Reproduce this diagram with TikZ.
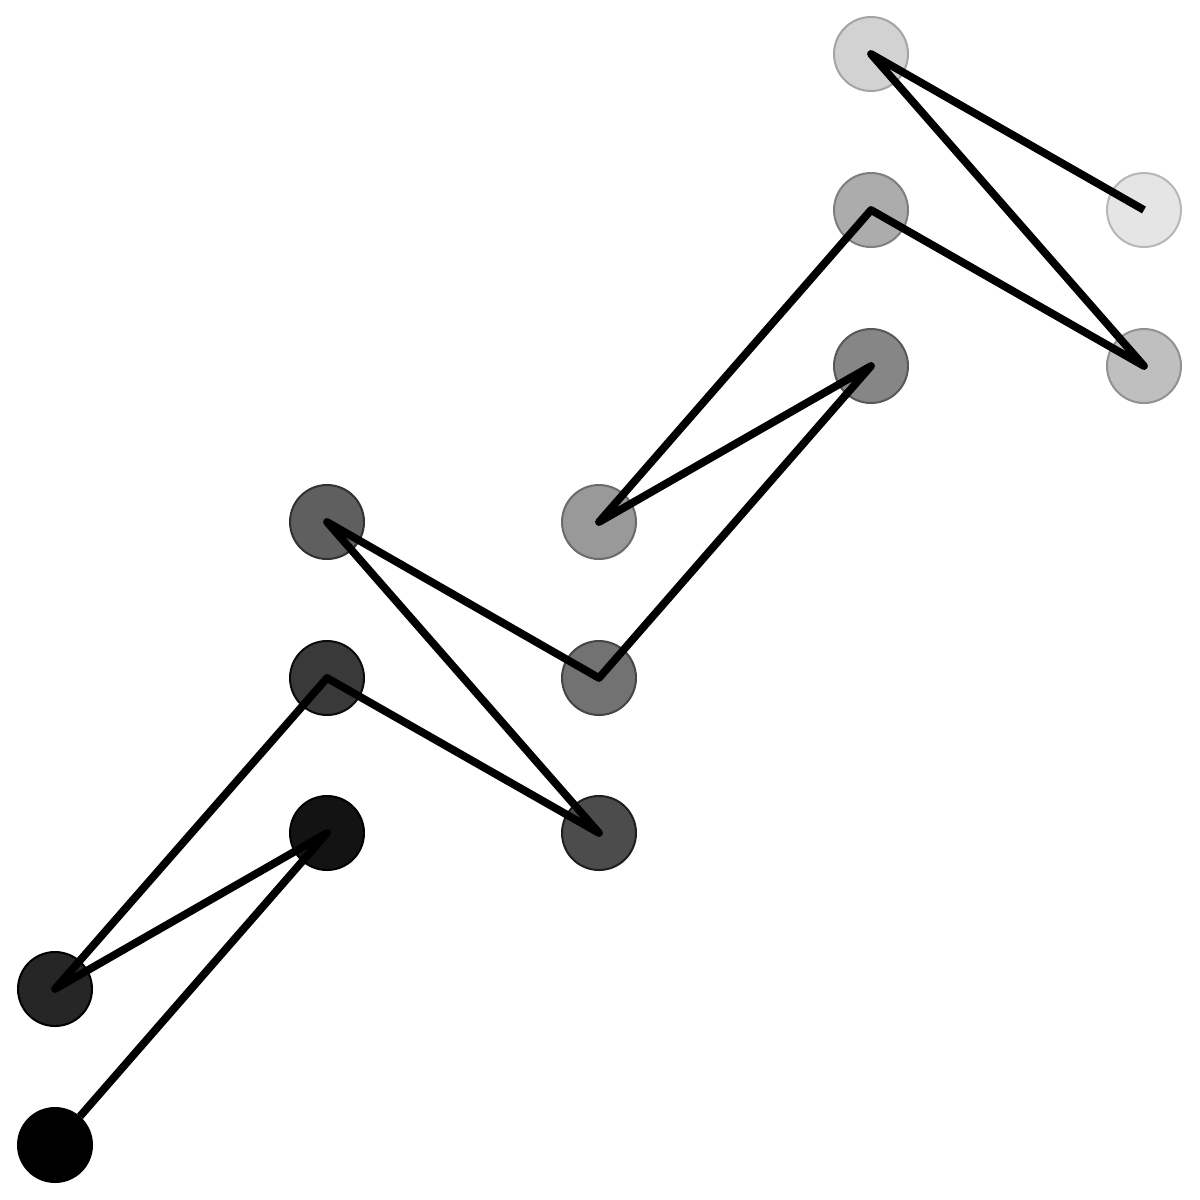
\documentclass[tikz,border=0pt]{standalone}
\begin{document}
\begin{tikzpicture}[x=0.5pt,y=-0.5pt,
  dot/.style={circle,inner sep=0pt,minimum size=37pt,line width=1pt},
  link/.style={line width=3.9pt,line join=round,line cap=butt}]
\useasboundingbox (0,0) rectangle (1200,1200);
\foreach \i/\x/\y in {1/55/1145,2/327/833,3/55/989,4/327/678,5/599/833,6/327/522,7/599/678,8/871/366,9/599/522,10/871/210,11/1144/366,12/871/54,13/1144/210}{
  \pgfmathsetmacro{\p}{100-7.48*(\i-1)}
  \pgfmathsetmacro{\q}{min(100,\p+18)}
  \node[dot,fill=black!\p,draw=black!\q] (n\i) at (\x,\y) {};
}
\draw[link] (n1) -- (n2.center) -- (n3.center) -- (n4.center) -- (n5.center) -- (n6.center) -- (n7.center) -- (n8.center) -- (n9.center) -- (n10.center) -- (n11.center) -- (n12.center) -- (n13.center);
\end{tikzpicture}
\end{document}
